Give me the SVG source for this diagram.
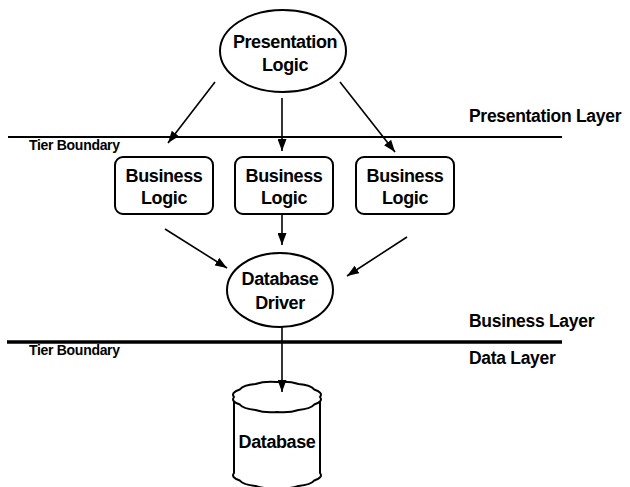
<svg xmlns="http://www.w3.org/2000/svg" width="630" height="487" viewBox="0 0 630 487">
  <defs>
    <marker id="arrow" viewBox="0 0 12 9" refX="12" refY="4.5" markerWidth="12" markerHeight="9" markerUnits="userSpaceOnUse" orient="auto">
      <path d="M0,0 L12,4.5 L0,9 Z" fill="#000"/>
    </marker>
  </defs>
  <style>
    .shape { fill: #fff; stroke: #000; stroke-width: 2; }
    .label { font-family: "Liberation Sans", Arial, sans-serif; font-weight: bold; font-size: 18px; letter-spacing: -0.4px; fill: #000; text-anchor: middle; }
    .layer { font-family: "Liberation Sans", Arial, sans-serif; font-weight: bold; font-size: 17.5px; letter-spacing: -0.3px; fill: #000; }
    .tier { font-family: "Liberation Sans", Arial, sans-serif; font-weight: bold; font-size: 14px; letter-spacing: -0.3px; fill: #000; }
    .conn { stroke: #000; stroke-width: 1.6; fill: none; marker-end: url(#arrow); }
  </style>

  <!-- tier boundaries -->
  <g id="boundaries">
    <line x1="8" y1="137" x2="562" y2="137" stroke="#000" stroke-width="2"/>
    <text class="tier" x="29" y="150">Tier Boundary</text>
    <line x1="7" y1="342" x2="562" y2="342" stroke="#000" stroke-width="3.5"/>
    <text class="tier" x="29" y="355">Tier Boundary</text>
  </g>

  <!-- layer names -->
  <g id="layers">
    <text class="layer" x="469" y="122">Presentation Layer</text>
    <text class="layer" x="469" y="327">Business Layer</text>
    <text class="layer" x="469" y="364">Data Layer</text>
  </g>

  <g id="presentation-logic">
    <ellipse class="shape" cx="283" cy="51" rx="63" ry="41"/>
    <text class="label" x="285" y="48">Presentation</text>
    <text class="label" x="285" y="71">Logic</text>
  </g>

  <g id="business-logic-1">
    <rect class="shape" x="115" y="157" width="98" height="57" rx="8"/>
    <text class="label" x="164" y="182">Business</text>
    <text class="label" x="164" y="204">Logic</text>
  </g>

  <g id="business-logic-2">
    <rect class="shape" x="235" y="157" width="98" height="57" rx="8"/>
    <text class="label" x="284" y="182">Business</text>
    <text class="label" x="284" y="204">Logic</text>
  </g>

  <g id="business-logic-3">
    <rect class="shape" x="356" y="157" width="98" height="57" rx="8"/>
    <text class="label" x="405" y="182">Business</text>
    <text class="label" x="405" y="204">Logic</text>
  </g>

  <g id="database-driver">
    <ellipse class="shape" cx="280" cy="290" rx="53" ry="37"/>
    <text class="label" x="280" y="285">Database</text>
    <text class="label" x="280" y="309">Driver</text>
  </g>

  <g id="database">
    <!-- body and scalloped bottom rim -->
    <path class="shape" d="M234,397 L234,473 Q230.5,477.4 239.8,480.5 Q243,484.9 255.5,486 Q264.5,489.2 277,488 Q289.5,489.2 298.5,486 Q311,484.9 314.2,480.5 Q323.5,477.4 320,473 L320,397 Z"/>
    <!-- scalloped top rim -->
    <path class="shape" d="M320,397 Q323.5,401.4 314.2,404.5 Q311,408.9 298.5,410 Q289.5,413.2 277,412 Q264.5,413.2 255.5,410 Q243,408.9 239.8,404.5 Q230.5,401.4 234,397 Q230.5,392.6 239.8,389.5 Q243,385.1 255.5,384 Q264.5,380.8 277,382 Q289.5,380.8 298.5,384 Q311,385.1 314.2,389.5 Q323.5,392.6 320,397 Z"/>
    <text class="label" x="277" y="448">Database</text>
  </g>

  <g id="connectors">
    <line class="conn" x1="215" y1="82" x2="168" y2="143"/>
    <line class="conn" x1="282" y1="98" x2="282" y2="151"/>
    <line class="conn" x1="340" y1="82" x2="395" y2="152"/>
    <line class="conn" x1="165" y1="229" x2="227" y2="268"/>
    <line class="conn" x1="282" y1="214" x2="282" y2="245"/>
    <line class="conn" x1="407" y1="237" x2="347" y2="276"/>
    <line class="conn" x1="282" y1="327" x2="282" y2="392"/>
  </g>
</svg>
